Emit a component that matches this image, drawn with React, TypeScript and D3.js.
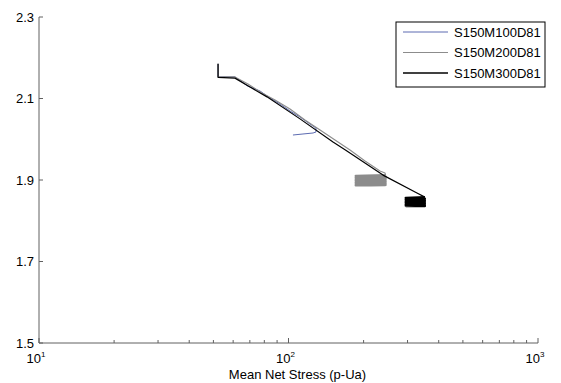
import React from "react";
import * as d3 from "d3";

// Mean net stress (kPa, log scale) vs specific volume for three tests
const seriesNames = ["S150M100D81", "S150M200D81", "S150M300D81"];
const seriesColors = ["#4a5aa8", "#8c8c8c", "#000000"];
const seriesWidths = [0.9, 1.1, 1.2];

const s100Stress = [52.2, 52.2, 61, 68.5, 76.9, 84.3, 92.5, 101.4, 111.2, 121.9, 128.9, 128.9, 125.4, 114.3, 104.2];
const s100Volume = [2.185, 2.153, 2.153, 2.1307, 2.1184, 2.1012, 2.0865, 2.0693, 2.0546, 2.0374, 2.0276, 2.0178, 2.0153, 2.0129, 2.0104];

const s200Stress = [
  52.2, 52.2, 61, 68.8, 78.3, 88.3, 101.4, 116.4, 133.8, 153.6, 176.4, 202.6, 232.6, 243.7,
  245, 186, 245, 186, 245, 186, 245, 186, 245, 186, 245, 186, 245, 186, 245,
];
const s200Volume = [
  2.185, 2.153, 2.153, 2.1356, 2.1135, 2.0963, 2.0742, 2.0472, 2.0227, 1.9982, 1.9736, 1.9466, 1.9221, 1.9172,
  1.912, 1.910, 1.908, 1.906, 1.904, 1.902, 1.900, 1.898, 1.896, 1.894, 1.892, 1.890, 1.888, 1.887, 1.887,
];

const s300Stress = [
  52.2, 52.2, 61, 70.1, 82, 111.2, 150.8, 168.5, 239.2, 327.3,
  352, 295, 352, 295, 352, 295, 352, 295, 352, 295, 352, 295, 352, 295,
];
const s300Volume = [
  2.185, 2.152, 2.15, 2.128, 2.104, 2.05, 1.993, 1.974, 1.912, 1.868,
  1.858, 1.856, 1.854, 1.852, 1.850, 1.848, 1.846, 1.844, 1.842, 1.840, 1.838, 1.837, 1.836, 1.836,
];

// index where the cyclic loading phase starts in each series (-1: none)
const cyclicStart = [-1, 14, 10];

const yTicks = [1.5, 1.7, 1.9, 2.1, 2.3];
const xMajor = [10, 100, 1000];
const xMinor = [20, 30, 40, 50, 60, 70, 80, 90, 200, 300, 400, 500, 600, 700, 800, 900];
const xLabel = "Mean Net Stress (p-Ua)";

const W = 561;
const H = 383;
const FONT = "'Liberation Sans', Arial, sans-serif";

export default function App() {
  const x = d3.scaleLog().domain([10, 1000]).range([39, 538]);
  const y = d3.scaleLinear().domain([1.5, 2.3]).range([343, 17]);

  const seriesData = [
    d3.zip(s100Stress, s100Volume),
    d3.zip(s200Stress, s200Volume),
    d3.zip(s300Stress, s300Volume),
  ];
  const line = d3
    .line<number[]>()
    .x((d) => x(d[0]))
    .y((d) => y(d[1]));

  const [x0, x1] = x.range();
  const [yb, yt] = y.range();
  const axisColor = "#606060";

  const legX = 396;
  const legY = 22;
  const legW = 149;
  const legH = 65;

  return (
    <svg
      width={W}
      height={H}
      style={{ position: "fixed", left: 0, top: 0, background: "#fff" }}
      fontFamily={FONT}
    >
      <rect width={W} height={H} fill="#fff" />

      {/* data */}
      {seriesData.map((pts, i) => {
        const c = cyclicStart[i];
        const mono = c < 0 ? pts : pts.slice(0, c + 1);
        const cyc = c < 0 ? [] : pts.slice(c);
        return (
          <g key={seriesNames[i]}>
            <path
              d={line(mono) || ""}
              fill="none"
              stroke={seriesColors[i]}
              strokeWidth={seriesWidths[i]}
              strokeLinejoin="round"
            />
            {cyc.length > 0 && (
              <path
                d={line(cyc) || ""}
                fill="none"
                stroke={seriesColors[i]}
                strokeWidth={2.4}
                strokeLinejoin="round"
              />
            )}
          </g>
        );
      })}

      {/* axes */}
      <line x1={x0} y1={yb} x2={x0} y2={yt} stroke={axisColor} strokeWidth={1} />
      <line x1={x0} y1={yb} x2={x1} y2={yb} stroke={axisColor} strokeWidth={1} />

      {yTicks.map((t) => (
        <g key={t}>
          <line x1={x0} x2={x0 + 4} y1={y(t)} y2={y(t)} stroke={axisColor} />
          <text x={x0 - 5} y={y(t) + 4.5} fontSize={13} textAnchor="end" fill="#000">
            {t.toFixed(1)}
          </text>
        </g>
      ))}

      {xMinor.map((t) => (
        <line key={t} x1={x(t)} x2={x(t)} y1={yb} y2={yb - 3} stroke={axisColor} />
      ))}
      {xMajor.map((t) => (
        <g key={t}>
          <line x1={x(t)} x2={x(t)} y1={yb} y2={yb - 5} stroke={axisColor} />
          <text x={x(t) - 3} y={yb + 20} fontSize={13} textAnchor="middle" fill="#000">
            10
            <tspan fontSize={8} dy={-6}>
              {Math.round(Math.log10(t))}
            </tspan>
          </text>
        </g>
      ))}

      <text x={(x0 + x1) / 2 + 9} y={379} fontSize={13} textAnchor="middle" fill="#000">
        {xLabel}
      </text>

      {/* legend */}
      <rect x={legX} y={legY} width={legW} height={legH} fill="#fff" stroke="#000" strokeWidth={1} />
      {seriesNames.map((name, i) => {
        const ly = legY + 10 + i * 20.5;
        return (
          <g key={name}>
            <line
              x1={legX + 7}
              x2={legX + 52}
              y1={ly}
              y2={ly}
              stroke={seriesColors[i]}
              strokeWidth={seriesWidths[i] + (i === 2 ? 0.4 : 0)}
            />
            <text x={legX + 58} y={ly + 4.5} fontSize={13} fill="#000">
              {name}
            </text>
          </g>
        );
      })}
    </svg>
  );
}
